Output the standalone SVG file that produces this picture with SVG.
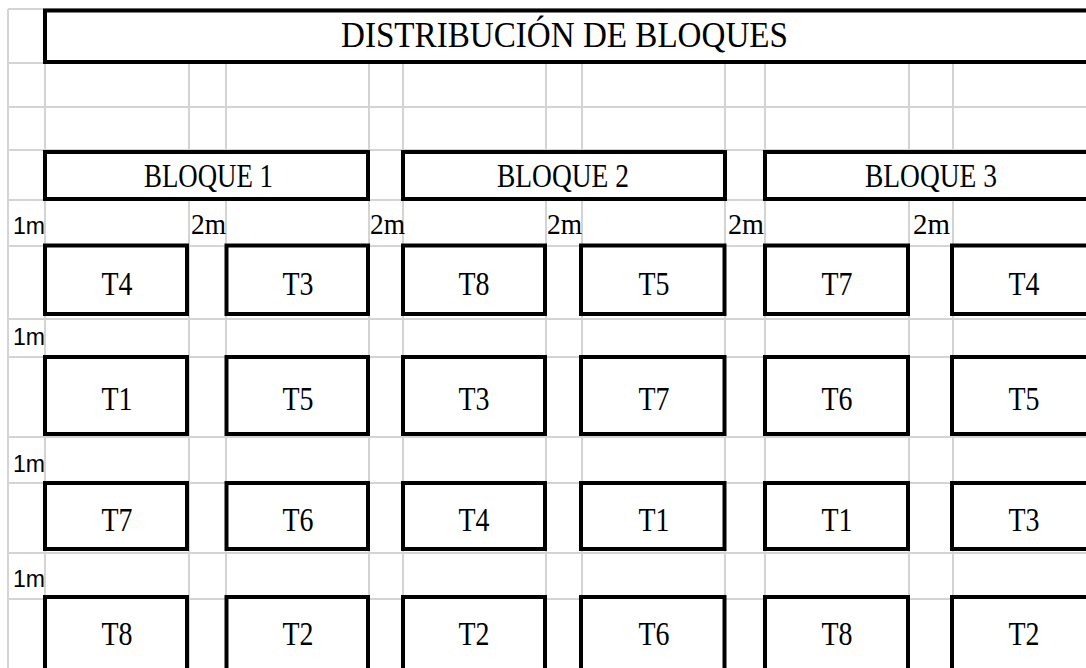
<svg xmlns="http://www.w3.org/2000/svg" width="1086" height="668" viewBox="0 0 1086 668">
<style>
.g{stroke:#d4d4d4;stroke-width:2;fill:none}
.b{fill:#fff;stroke:#000;stroke-width:4}
.s{font-family:"Liberation Serif","Times New Roman",serif;fill:#000}
.t{font-size:33px;text-anchor:middle}
.m{font-size:30px}
.h{font-family:"Liberation Sans",Arial,sans-serif;font-size:23px;fill:#000}
</style>
<rect width="1086" height="668" fill="#fff"/>
<g id="grid">
<path class="g" d="M8 9H1086M8 63H1086M8 107H1086M8 150H1086M8 200H1086M8 246H1086M8 319H1086M8 357H1086M8 437H1086M8 483H1086M8 553H1086M8 599H1086"/>
<path class="g" d="M8 9V668M45 9V668M189 9V668M226 9V668M369 9V668M403 9V668M546 9V668M582 9V668M725 9V668M765 9V668M909 9V668M953 9V668"/>
</g>
<g id="title">
<rect class="b" x="45" y="10.5" width="1060" height="51.5"/>
<text class="s" x="564.5" y="47" font-size="35" text-anchor="middle" textLength="447" lengthAdjust="spacingAndGlyphs">DISTRIBUCIÓN DE BLOQUES</text>
</g>
<g id="bloque1">
<rect class="b" x="45" y="152" width="323" height="47"/>
<text class="s t" x="208.5" y="187" textLength="129" lengthAdjust="spacingAndGlyphs">BLOQUE 1</text>
</g>
<g id="bloque2">
<rect class="b" x="403" y="152" width="322" height="47"/>
<text class="s t" x="563" y="187" textLength="132" lengthAdjust="spacingAndGlyphs">BLOQUE 2</text>
</g>
<g id="bloque3">
<rect class="b" x="765" y="152" width="340" height="47"/>
<text class="s t" x="931" y="187" textLength="132" lengthAdjust="spacingAndGlyphs">BLOQUE 3</text>
</g>
<g id="labels">
<text class="h" x="13" y="234" textLength="32" lengthAdjust="spacingAndGlyphs">1m</text>
<text class="h" x="13" y="345" textLength="32" lengthAdjust="spacingAndGlyphs">1m</text>
<text class="h" x="13" y="472" textLength="32" lengthAdjust="spacingAndGlyphs">1m</text>
<text class="h" x="13" y="587" textLength="32" lengthAdjust="spacingAndGlyphs">1m</text>
<text class="s m" x="191" y="234" textLength="35" lengthAdjust="spacingAndGlyphs">2m</text>
<text class="s m" x="370" y="234" textLength="35" lengthAdjust="spacingAndGlyphs">2m</text>
<text class="s m" x="547" y="234" textLength="35" lengthAdjust="spacingAndGlyphs">2m</text>
<text class="s m" x="728" y="234" textLength="36" lengthAdjust="spacingAndGlyphs">2m</text>
<text class="s m" x="913" y="234" textLength="37" lengthAdjust="spacingAndGlyphs">2m</text>
</g>
<g id="r1c1"><rect class="b" x="45" y="245.5" width="142" height="68.5"/><text class="s t" x="117" y="295" textLength="31" lengthAdjust="spacingAndGlyphs">T4</text></g>
<g id="r1c2"><rect class="b" x="226.5" y="245.5" width="141.5" height="68.5"/><text class="s t" x="298" y="295" textLength="31" lengthAdjust="spacingAndGlyphs">T3</text></g>
<g id="r1c3"><rect class="b" x="403" y="245.5" width="142" height="68.5"/><text class="s t" x="474" y="295" textLength="31" lengthAdjust="spacingAndGlyphs">T8</text></g>
<g id="r1c4"><rect class="b" x="581" y="245.5" width="143.5" height="68.5"/><text class="s t" x="654" y="295" textLength="31" lengthAdjust="spacingAndGlyphs">T5</text></g>
<g id="r1c5"><rect class="b" x="765" y="245.5" width="143" height="68.5"/><text class="s t" x="837" y="295" textLength="31" lengthAdjust="spacingAndGlyphs">T7</text></g>
<g id="r1c6"><rect class="b" x="952" y="245.5" width="150" height="68.5"/><text class="s t" x="1024" y="295" textLength="31" lengthAdjust="spacingAndGlyphs">T4</text></g>
<g id="r2c1"><rect class="b" x="45" y="357" width="142" height="77"/><text class="s t" x="117" y="410" textLength="31" lengthAdjust="spacingAndGlyphs">T1</text></g>
<g id="r2c2"><rect class="b" x="226.5" y="357" width="141.5" height="77"/><text class="s t" x="298" y="410" textLength="31" lengthAdjust="spacingAndGlyphs">T5</text></g>
<g id="r2c3"><rect class="b" x="403" y="357" width="142" height="77"/><text class="s t" x="474" y="410" textLength="31" lengthAdjust="spacingAndGlyphs">T3</text></g>
<g id="r2c4"><rect class="b" x="581" y="357" width="143.5" height="77"/><text class="s t" x="654" y="410" textLength="31" lengthAdjust="spacingAndGlyphs">T7</text></g>
<g id="r2c5"><rect class="b" x="765" y="357" width="143" height="77"/><text class="s t" x="837" y="410" textLength="31" lengthAdjust="spacingAndGlyphs">T6</text></g>
<g id="r2c6"><rect class="b" x="952" y="357" width="150" height="77"/><text class="s t" x="1024" y="410" textLength="31" lengthAdjust="spacingAndGlyphs">T5</text></g>
<g id="r3c1"><rect class="b" x="45" y="483" width="142" height="66"/><text class="s t" x="117" y="531" textLength="31" lengthAdjust="spacingAndGlyphs">T7</text></g>
<g id="r3c2"><rect class="b" x="226.5" y="483" width="141.5" height="66"/><text class="s t" x="298" y="531" textLength="31" lengthAdjust="spacingAndGlyphs">T6</text></g>
<g id="r3c3"><rect class="b" x="403" y="483" width="142" height="66"/><text class="s t" x="474" y="531" textLength="31" lengthAdjust="spacingAndGlyphs">T4</text></g>
<g id="r3c4"><rect class="b" x="581" y="483" width="143.5" height="66"/><text class="s t" x="654" y="531" textLength="31" lengthAdjust="spacingAndGlyphs">T1</text></g>
<g id="r3c5"><rect class="b" x="765" y="483" width="143" height="66"/><text class="s t" x="837" y="531" textLength="31" lengthAdjust="spacingAndGlyphs">T1</text></g>
<g id="r3c6"><rect class="b" x="952" y="483" width="150" height="66"/><text class="s t" x="1024" y="531" textLength="31" lengthAdjust="spacingAndGlyphs">T3</text></g>
<g id="r4c1"><rect class="b" x="45" y="597" width="142" height="90"/><text class="s t" x="117" y="645" textLength="31" lengthAdjust="spacingAndGlyphs">T8</text></g>
<g id="r4c2"><rect class="b" x="226.5" y="597" width="141.5" height="90"/><text class="s t" x="298" y="645" textLength="31" lengthAdjust="spacingAndGlyphs">T2</text></g>
<g id="r4c3"><rect class="b" x="403" y="597" width="142" height="90"/><text class="s t" x="474" y="645" textLength="31" lengthAdjust="spacingAndGlyphs">T2</text></g>
<g id="r4c4"><rect class="b" x="581" y="597" width="143.5" height="90"/><text class="s t" x="654" y="645" textLength="31" lengthAdjust="spacingAndGlyphs">T6</text></g>
<g id="r4c5"><rect class="b" x="765" y="597" width="143" height="90"/><text class="s t" x="837" y="645" textLength="31" lengthAdjust="spacingAndGlyphs">T8</text></g>
<g id="r4c6"><rect class="b" x="952" y="597" width="150" height="90"/><text class="s t" x="1024" y="645" textLength="31" lengthAdjust="spacingAndGlyphs">T2</text></g>
<g id="connectors"/>
</svg>
